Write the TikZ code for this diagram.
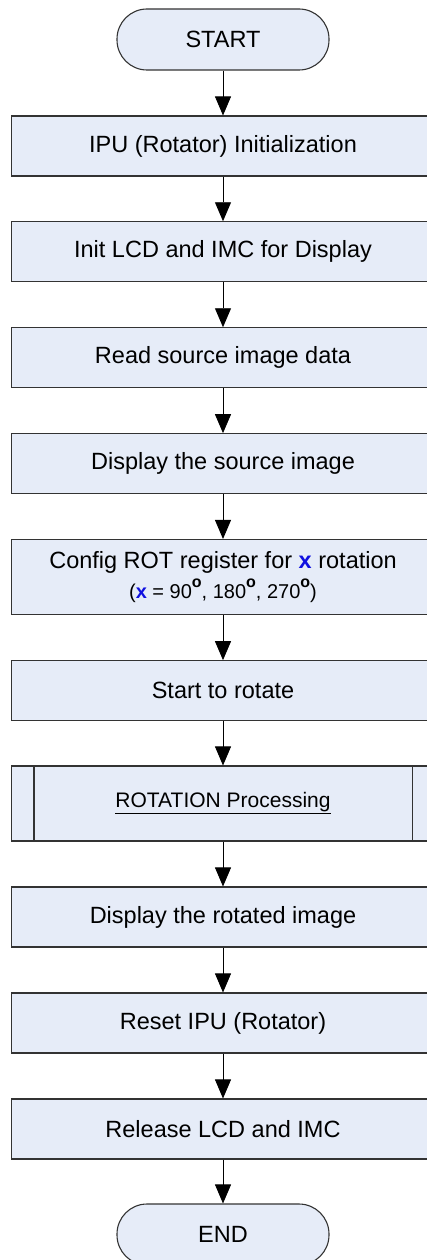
\documentclass[tikz,border=0pt]{standalone}
\usepackage{fontspec}
\setmainfont{Liberation Sans}
\usetikzlibrary{arrows.meta,calc}
\definecolor{boxfill}{HTML}{E6ECF8}
\definecolor{boxline}{HTML}{333333}
\definecolor{keyblue}{HTML}{1010E0}
\newcommand{\degmark}{\raisebox{10.5pt}{\fontsize{16}{16}\selectfont\textbf{o}}}
\newcommand{\bluex}{\textcolor{keyblue}{\textbf{x}}}
\begin{document}
\begin{tikzpicture}[x=1pt,y=-1pt,
  stepbox/.style={draw=boxline,fill=boxfill,line width=1.1pt,rectangle,
    minimum width=423pt,minimum height=60pt,inner sep=0pt,align=center,
    font=\fontsize{23.5}{28}\selectfont},
  tallbox/.style={stepbox,minimum height=75pt},
  terminal/.style={draw=boxline,fill=boxfill,line width=1.1pt,rectangle,
    rounded corners=30pt,minimum width=212pt,minimum height=61pt,inner sep=0pt,
    font=\fontsize{23.5}{28}\selectfont},
  flow/.style={draw=black,line width=0.9pt,-{Triangle[width=16pt,length=19pt]}},
  subline/.style={draw=boxline,line width=1.1pt}]
\useasboundingbox (0,0) rectangle (426,1260);

\node[terminal] (start) at (223,39.5) {START};
\node[stepbox] (ipu) at (223,146) {IPU (Rotator) Initialization};
\node[stepbox] (lcd) at (223,251.8) {Init LCD and IMC for Display};
\node[stepbox] (read) at (223,357.8) {Read source image data};
\node[stepbox] (show) at (223,463.7) {Display the source image};
\node[tallbox] (cfg) at (223,577) {Config ROT register for \bluex{} rotation\\[2pt]
  {\fontsize{20}{24}\selectfont(\bluex{} = 90\degmark, 180\degmark, 270\degmark)}};
\node[stepbox] (go) at (223,690.7) {Start to rotate};
\node[tallbox,font=\fontsize{21}{25}\selectfont] (proc) at (223,803.5)
  {\underline{ROTATION Processing}};
\node[stepbox] (shrot) at (223,917) {Display the rotated image};
\node[stepbox] (reset) at (223,1023) {Reset IPU (Rotator)};
\node[stepbox] (rel) at (223,1129) {Release LCD and IMC};
\node[terminal] (end) at (223,1234.5) {END};

% side bars of the predefined-process box
\draw[subline] ($(proc.north west)+(23,0)$) -- ($(proc.south west)+(23,0)$);
\draw[subline] ($(proc.north east)+(-23,0)$) -- ($(proc.south east)+(-23,0)$);

\draw[flow] (start) -- (ipu);
\draw[flow] (ipu) -- (lcd);
\draw[flow] (lcd) -- (read);
\draw[flow] (read) -- (show);
\draw[flow] (show) -- (cfg);
\draw[flow] (cfg) -- (go);
\draw[flow] (go) -- (proc);
\draw[flow] (proc) -- (shrot);
\draw[flow] (shrot) -- (reset);
\draw[flow] (reset) -- (rel);
\draw[flow] (rel) -- (end);
\end{tikzpicture}
\end{document}
